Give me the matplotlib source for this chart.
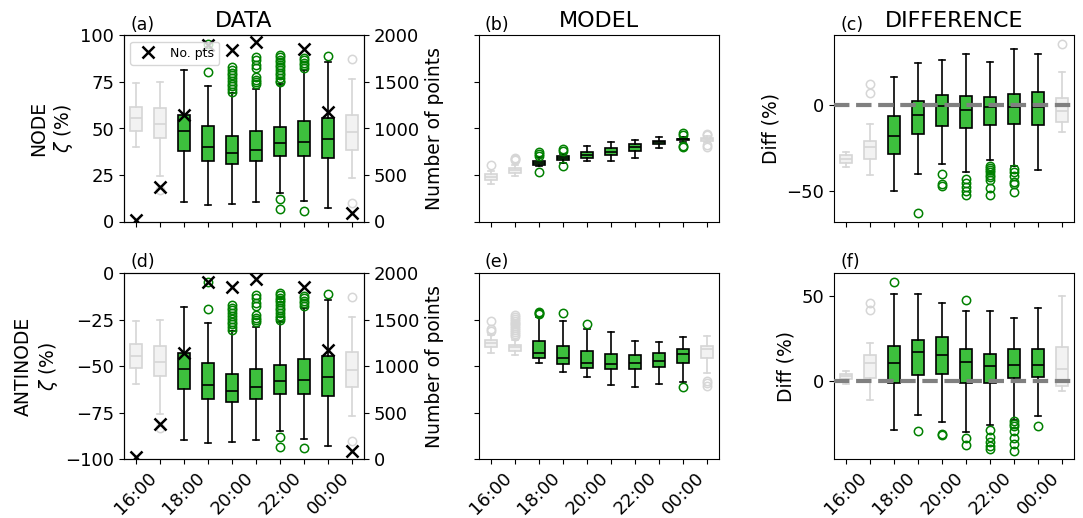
import matplotlib
matplotlib.use("Agg")
import matplotlib.pyplot as plt

hours = ['16:00', '17:00', '18:00', '19:00', '20:00', '21:00', '22:00', '23:00', '00:00', '01:00']
shown_labels = ['16:00', '', '18:00', '', '20:00', '', '22:00', '', '00:00', '']
gray_idx = [0, 1, 9]
green_idx = [2, 3, 4, 5, 6, 7, 8]

# Number of points (twin axis)
counts = [20, 376, 1140, 1903, 1849, 1935, 2150, 1857, 1176, 93]

# (a) DATA NODE
a_hi = [74.4, 74.9, 81.7, 73.1, 69.0, 71.3, 73.7, 81.2, 85.7, 76.7]
a_q3 = [61.8, 60.9, 57.0, 51.6, 46.1, 48.7, 50.7, 54.1, 55.7, 57.5]
a_med = [55.7, 52.3, 48.6, 40.0, 36.7, 38.7, 42.1, 42.5, 44.4, 48.0]
a_q1 = [48.9, 44.8, 37.8, 32.3, 31.0, 32.4, 35.1, 35.1, 34.2, 38.7]
a_lo = [40.3, 24.4, 10.4, 9.0, 9.3, 10.4, 15.4, 10.9, 7.2, 23.5]
a_fl = [[], [16.7], [], [80.6, 95.5],
        [83.0, 81.5, 80.1, 78.5, 77.1, 75.4, 74.0, 72.6, 71.0, 69.4],
        [88.4, 86.9, 84.2, 82.4, 77.6, 76.2, 74.9, 74.0],
        [89.6, 88.4, 86.9, 85.7, 84.4, 83.0, 81.5, 80.1, 78.7, 77.2, 75.8, 74.9, 12.2, 6.8],
        [87.8, 86.6, 85.3, 84.1, 82.6, 5.9], [89.1], [87.1, 10.0]]

# (b) MODEL NODE
b_hi = [27.4, 30.6, 34.6, 36.4, 40.5, 42.7, 43.9, 45.3, 45.5, 45.9]
b_q3 = [25.6, 28.9, 32.6, 35.1, 37.3, 39.6, 41.6, 43.5, 44.6, 45.0]
b_med = [23.8, 27.6, 31.5, 34.1, 35.8, 37.6, 40.0, 42.5, 44.3, 44.2]
b_q1 = [22.4, 26.2, 30.5, 32.8, 34.2, 35.5, 37.8, 41.4, 43.7, 43.4]
b_lo = [20.3, 24.2, 29.7, 31.7, 32.4, 32.4, 34.1, 39.6, 42.8, 42.5]
b_fl = [[30.5], [34.2, 33.6, 33.0], [37.3, 36.2, 35.3, 26.5], [39.1, 38.0, 29.6],
        [], [], [], [], [47.5, 46.5, 40.8, 40.1], [47.1, 46.3, 41.0, 40.3]]

# (c) DIFFERENCE NODE
c_hi = [-27.3, -11.0, 15.8, 24.0, 26.0, 29.4, 24.4, 32.3, 29.4, 18.7]
c_q3 = [-29.2, -21.2, -6.5, 1.9, 5.4, 4.8, 4.4, 6.3, 7.1, 4.0]
c_med = [-31.3, -24.2, -18.3, -5.8, -1.0, -2.9, -1.3, -1.3, -1.3, -3.8]
c_q1 = [-33.7, -31.2, -28.3, -17.1, -12.1, -13.5, -11.7, -11.0, -11.5, -10.0]
c_lo = [-36.0, -40.4, -49.6, -39.8, -34.2, -39.0, -31.7, -35.6, -37.9, -15.8]
c_fl = [[], [11.9, 6.7], [], [-62.5], [-39.8, -45.8, -47.1],
        [-42.9, -45.2, -47.5, -49.6, -51.9],
        [-35.6, -36.5, -37.9, -39.0, -40.4, -41.7, -43.3, -48.1, -51.9],
        [-37.1, -39.0, -41.0, -44.8, -45.6, -50.4], [], [35.0]]

# (d) DATA ANTINODE
d_hi = [-25.6, -25.1, -18.3, -26.9, -31.0, -28.7, -26.3, -18.8, -14.3, -23.3]
d_q3 = [-38.2, -39.1, -43.0, -48.4, -53.9, -51.3, -49.3, -45.9, -44.3, -42.5]
d_med = [-44.3, -47.7, -51.4, -60.0, -63.3, -61.3, -57.9, -57.5, -55.6, -52.0]
d_q1 = [-51.1, -55.2, -62.2, -67.7, -69.0, -67.6, -64.9, -64.9, -65.8, -61.3]
d_lo = [-59.7, -75.6, -89.6, -91.0, -90.7, -89.6, -84.6, -89.1, -92.8, -76.5]
d_fl = [[], [-83.3], [], [-19.4, -4.5],
        [-17.0, -18.5, -19.9, -21.5, -22.9, -24.6, -26.0, -27.4, -29.0, -30.6],
        [-11.6, -13.1, -15.8, -17.6, -22.4, -23.8, -25.1, -26.0],
        [-10.4, -11.6, -13.1, -14.3, -15.6, -17.0, -18.5, -19.9, -21.3, -22.8, -24.2, -25.1, -87.8, -93.2],
        [-12.2, -13.4, -14.7, -15.9, -17.4, -94.1], [-10.9], [-12.9, -90.0]]

# (e) MODEL ANTINODE
e_hi = [-33.2, -35.8, -23.3, -25.4, -29.7, -31.7, -36.2, -36.7, -34.4, -33.5]
e_q3 = [-35.8, -38.4, -36.4, -39.1, -41.9, -43.5, -44.1, -43.0, -40.5, -39.1]
e_med = [-37.6, -39.8, -42.7, -45.7, -48.4, -48.7, -48.4, -47.1, -43.5, -40.7]
e_q1 = [-39.4, -41.6, -45.3, -48.9, -51.1, -51.6, -51.4, -50.2, -48.4, -45.7]
e_lo = [-43.0, -44.1, -48.0, -53.2, -55.9, -60.0, -60.9, -59.5, -58.2, -53.8]
e_fl = [[-25.4, -29.9, -30.8],
        [-22.5, -23.5, -24.5, -25.5, -26.5, -27.5, -28.5, -29.5, -30.5, -31.5, -32.5, -33.5],
        [-20.6, -21.3, -22.0], [-21.5], [-27.2], [], [], [], [-60.9], [-57.9, -59.1, -60.6]]

# (f) DIFFERENCE ANTINODE
f_hi = [6.1, 22.7, 51.4, 51.4, 46.0, 41.5, 41.5, 37.4, 43.1, 50.0]
f_q3 = [4.2, 15.2, 20.4, 24.3, 25.9, 18.6, 16.0, 18.8, 18.8, 19.8]
f_med = [2.6, 10.5, 10.3, 16.8, 15.2, 11.1, 8.7, 9.1, 9.3, 7.1]
f_q1 = [1.0, 1.6, -1.4, 3.2, 3.8, -1.4, -1.4, 1.6, 2.2, -3.0]
f_lo = [-1.8, -11.3, -29.4, -20.0, -24.7, -30.2, -26.1, -23.5, -21.1, -5.9]
f_fl = [[], [46.0, 42.1], [58.7], [-29.6], [-31.4, -32.0], [47.8, -34.0, -37.9],
        [-29.1, -33.0, -36.0, -38.9, -40.5],
        [-24.1, -25.5, -26.5, -30.0, -34.0, -37.5, -41.5], [-26.5], []]

GREEN = '#3dbf3d'
GRAY_FACE = '#f2f2f2'
GRAY_EDGE = '#d6d6d6'

W, H = 1083, 518
fig = plt.figure(figsize=(W / 100, H / 100), dpi=100)

col_left = [124, 479, 834]
row_top = [35.5, 273.3]
aw, ah = 240, 186.0


def make_ax(r, c):
    l = col_left[c]
    t = row_top[r]
    return fig.add_axes([l / W, 1 - (t + ah) / H, aw / W, ah / H])


def draw_boxes(ax, med, q1, q3, lo, hi, fl):
    for idx_list, green in ((gray_idx, False), (green_idx, True)):
        stats = [dict(med=med[i], q1=q1[i], q3=q3[i], whislo=lo[i], whishi=hi[i],
                      fliers=fl[i]) for i in idx_list]
        if green:
            ec, fc, fle = 'black', GREEN, 'green'
        else:
            ec, fc, fle = GRAY_EDGE, GRAY_FACE, GRAY_EDGE
        ax.bxp(stats, positions=idx_list, widths=0.5, patch_artist=True,
               manage_ticks=False,
               boxprops=dict(facecolor=fc, edgecolor=ec, linewidth=1.2),
               medianprops=dict(color=ec, linewidth=1.2),
               whiskerprops=dict(color=ec, linewidth=1.2),
               capprops=dict(color=ec, linewidth=1.2),
               flierprops=dict(marker='o', markerfacecolor='none',
                               markeredgecolor=fle, markersize=6, markeredgewidth=1.1))


panels = [
    (0, 0, a_med, a_q1, a_q3, a_lo, a_hi, a_fl, '(a)'),
    (0, 1, b_med, b_q1, b_q3, b_lo, b_hi, b_fl, '(b)'),
    (0, 2, c_med, c_q1, c_q3, c_lo, c_hi, c_fl, '(c)'),
    (1, 0, d_med, d_q1, d_q3, d_lo, d_hi, d_fl, '(d)'),
    (1, 1, e_med, e_q1, e_q3, e_lo, e_hi, e_fl, '(e)'),
    (1, 2, f_med, f_q1, f_q3, f_lo, f_hi, f_fl, '(f)'),
]

titles = ['DATA', 'MODEL', 'DIFFERENCE']
positions = list(range(len(hours)))

for r, c, med, q1, q3, lo, hi, fl, tag in panels:
    ax = make_ax(r, c)
    draw_boxes(ax, med, q1, q3, lo, hi, fl)
    ax.set_xticks(positions)
    if r == 1:
        ax.set_xticklabels(shown_labels, rotation=45, ha='center', fontsize=13)
    else:
        ax.set_xticklabels([])
    ax.tick_params(axis='y', labelsize=13)
    ax.text(0.025, 1.01, tag, transform=ax.transAxes, ha='left', va='bottom', fontsize=12.5)
    if r == 0:
        ax.set_title(titles[c], fontsize=16, pad=6)
    if c in (0, 1):
        if r == 0:
            ax.set_ylim(0, 100)
            ax.set_yticks([0, 25, 50, 75, 100])
        else:
            ax.set_ylim(-100, 0)
            ax.set_yticks([-100, -75, -50, -25, 0])
    if c == 1:
        ax.set_yticklabels([])
    if c == 2:
        ax.axhline(0, color='gray', linestyle='--', linewidth=3, zorder=5)
        ax.set_yticks([-50, 0, 50])
        ax.set_ylabel('Diff (%)', fontsize=13.5)
        ymin = min(min(lo), min(v for f in fl for v in f))
        ymax = max(max(hi), max(v for f in fl for v in f))
        pad = 0.05 * (ymax - ymin)
        ax.set_ylim(ymin - pad, ymax + pad)
    if c == 0:
        ax.set_ylabel(('NODE' if r == 0 else 'ANTINODE') + '\n$\\zeta$ (%)', fontsize=13.5)
        ax2 = ax.twinx()
        ax2.plot(positions, counts, linestyle='none', marker='x', color='black',
                 markersize=8, markeredgewidth=1.8, label='No. pts')
        ax2.set_ylim(0, 2000)
        ax2.set_yticks([0, 500, 1000, 1500, 2000])
        ax2.tick_params(axis='y', labelsize=13)
        ax2.set_ylabel('Number of points', fontsize=13.5)
        if r == 0:
            ax2.legend(loc='upper left', fontsize=9)
    ax.set_xlim(-0.5, 9.5)

fig.savefig('out.png', dpi=100)
